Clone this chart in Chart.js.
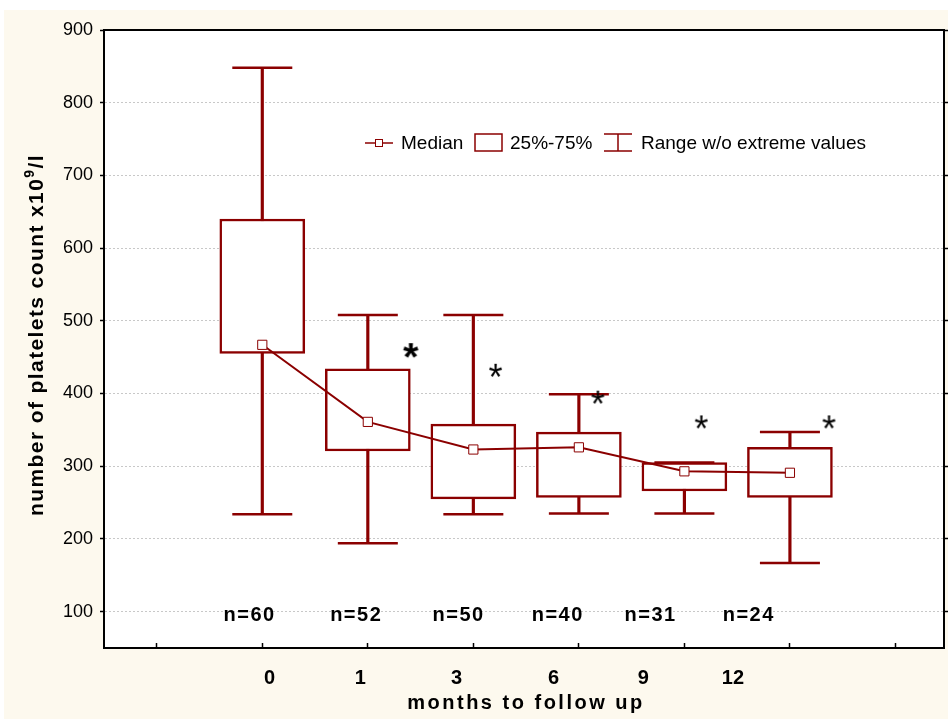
<!DOCTYPE html>
<html>
<head>
<meta charset="utf-8">
<script src="https://cdn.jsdelivr.net/npm/chart.js@4.4.1/dist/chart.umd.min.js"></script>
<style>
	html, body { margin: 0; padding: 0; background: #fff; }
</style>
</head>
<body>
<canvas id="platelets" width="948" height="719"></canvas>
<script>
// --- data ---
const months = ['0', '1', '3', '6', '9', '12'];
const nCounts = [60, 52, 50, 40, 31, 24];
const medians = [467, 361, 323, 326, 293, 291];
const q1 = [455, 321, 255, 257, 266, 257];
const q3 = [640, 434, 358, 347, 305, 326];
const lowWhisker = [234, 194, 234, 235, 235, 167];
const highWhisker = [848, 508, 508, 399, 305, 347];
const extremeX = [2.41, 3.21, 4.18, 5.16, 6.37];
const extremeY = [459, 432, 395, 361, 361];
const yTicks = [100, 200, 300, 400, 500, 600, 700, 800, 900];
const slotTicks = [0, 1, 2, 3, 4, 5, 6, 7];
// labels in the original sit a bit off the boxes
const monthLabelPos = [1.07, 1.93, 2.84, 3.76, 4.61, 5.46];
const nLabelPos = [0.88, 1.89, 2.86, 3.80, 4.68, 5.61];
const nLabelY = 95;

const DARK = '#8b0000';
const CREAM = '#fdf9ee';
const FONT = "'Liberation Sans', Arial, sans-serif";
const X_MIN = -0.5;
const X_MAX = 7.46;

const boxX = months.map((m, i) => i + 1);

function asteriskImage(height, bold) {
	const probe = document.createElement('canvas').getContext('2d');
	probe.font = (bold ? 'bold ' : '') + '100px ' + FONT;
	const m = probe.measureText('*');
	const h = m.actualBoundingBoxAscent + m.actualBoundingBoxDescent;
	const size = 100 * height / h;
	const c = document.createElement('canvas');
	c.width = Math.ceil(height * 1.4);
	c.height = Math.ceil(height * 1.4);
	const g = c.getContext('2d');
	g.font = (bold ? 'bold ' : '') + size + 'px ' + FONT;
	const mm = g.measureText('*');
	const w = mm.actualBoundingBoxLeft + mm.actualBoundingBoxRight;
	g.fillStyle = '#000';
	g.fillText('*',
		(c.width - w) / 2 + mm.actualBoundingBoxLeft,
		(c.height - height) / 2 + mm.actualBoundingBoxAscent);
	return c;
}

const starBold = asteriskImage(15, true);
const starThin = asteriskImage(13, false);

const framePlugin = {
	id: 'frame',
	beforeDraw(chart) {
		const { ctx, chartArea: ca, width, height } = chart;
		ctx.save();
		ctx.fillStyle = '#fff';
		ctx.fillRect(0, 0, width, height);
		ctx.fillStyle = CREAM;
		ctx.fillRect(4, 10, width - 4, height - 10);
		ctx.fillStyle = '#fff';
		ctx.fillRect(ca.left, ca.top, ca.right - ca.left, ca.bottom - ca.top);
		ctx.restore();
	},
	afterDraw(chart) {
		const { ctx, chartArea: ca } = chart;
		const xs = chart.scales.x;
		const ys = chart.scales.y;
		ctx.save();
		ctx.fillStyle = '#000';
		ctx.textBaseline = 'middle';

		// n= labels
		ctx.font = 'bold 20px ' + FONT;
		ctx.letterSpacing = '1.5px';
		ctx.textAlign = 'center';
		nCounts.forEach((n, i) => {
			ctx.fillText('n=' + n, xs.getPixelForValue(nLabelPos[i]), ys.getPixelForValue(nLabelY));
		});

		// x title
		ctx.font = 'bold 20px ' + FONT;
		ctx.letterSpacing = '2.5px';
		ctx.fillText('months to follow up', (ca.left + ca.right) / 2 + 2, 703);

		// y title with superscript
		ctx.save();
		ctx.translate(37, (ca.top + ca.bottom) / 2 - 4);
		ctx.rotate(-Math.PI / 2);
		ctx.textAlign = 'left';
		ctx.letterSpacing = '1.4px';
		const part1 = 'number of platelets count x10';
		const sup = '9';
		const part2 = '/l';
		ctx.font = 'bold 21px ' + FONT;
		const w1 = ctx.measureText(part1).width;
		const w3 = ctx.measureText(part2).width;
		ctx.font = 'bold 14px ' + FONT;
		const w2 = ctx.measureText(sup).width;
		const x0 = -(w1 + w2 + w3) / 2;
		ctx.font = 'bold 21px ' + FONT;
		ctx.fillText(part1, x0, 0);
		ctx.font = 'bold 14px ' + FONT;
		ctx.fillText(sup, x0 + w1, -7);
		ctx.font = 'bold 21px ' + FONT;
		ctx.fillText(part2, x0 + w1 + w2, 0);
		ctx.restore();

		// legend
		ctx.letterSpacing = '0px';
		ctx.textAlign = 'left';
		ctx.font = '19px ' + FONT;
		const lx = ca.left + 261;
		const ly = ca.top + 113;
		ctx.strokeStyle = DARK;
		ctx.lineWidth = 1.5;
		ctx.beginPath();
		ctx.moveTo(lx, ly);
		ctx.lineTo(lx + 28, ly);
		ctx.stroke();
		ctx.fillStyle = '#fff';
		ctx.fillRect(lx + 10.5, ly - 3.5, 7, 7);
		ctx.lineWidth = 1;
		ctx.strokeRect(lx + 10.5, ly - 3.5, 7, 7);
		ctx.fillStyle = '#000';
		ctx.fillText('Median', lx + 36, ly + 1);

		ctx.lineWidth = 1.5;
		ctx.strokeRect(lx + 110, ly - 9, 27, 17);
		ctx.fillText('25%-75%', lx + 145, ly + 1);

		ctx.beginPath();
		ctx.moveTo(lx + 239, ly - 9);
		ctx.lineTo(lx + 267, ly - 9);
		ctx.moveTo(lx + 253, ly - 9);
		ctx.lineTo(lx + 253, ly + 8);
		ctx.moveTo(lx + 239, ly + 8);
		ctx.lineTo(lx + 267, ly + 8);
		ctx.stroke();
		ctx.fillText('Range w/o extreme values', lx + 276, ly + 1);

		ctx.restore();
	},
};

new Chart(document.getElementById('platelets'), {
	type: 'line',
	data: {
		datasets: [
			{
				type: 'line',
				label: 'Median',
				data: boxX.map((x, i) => ({ x, y: medians[i] })),
				borderColor: DARK,
				borderWidth: 2,
				tension: 0,
				pointStyle: 'rect',
				pointRadius: 6.5,
				pointBackgroundColor: '#fff',
				pointBorderColor: DARK,
				pointBorderWidth: 1,
				order: 1,
			},
			{
				type: 'bar',
				label: '25%-75%',
				data: boxX.map((x, i) => ({ x, y: [q1[i], q3[i]] })),
				backgroundColor: '#fff',
				borderColor: DARK,
				borderWidth: 2.5,
				borderSkipped: false,
				barThickness: 85,
				grouped: false,
				order: 3,
			},
			{
				type: 'bar',
				label: 'Range w/o extreme values',
				data: boxX.map((x, i) => ({ x, y: [lowWhisker[i], highWhisker[i]] })),
				backgroundColor: DARK,
				borderWidth: 0,
				barThickness: 2.5,
				grouped: false,
				order: 5,
			},
			{
				type: 'scatter',
				label: 'caps',
				data: boxX.map((x, i) => ({ x, y: highWhisker[i] }))
					.concat(boxX.map((x, i) => ({ x, y: lowWhisker[i] }))),
				showLine: false,
				pointStyle: 'line',
				pointRadius: 30,
				pointBorderColor: DARK,
				pointBorderWidth: 2.5,
				order: 4,
			},
			{
				type: 'scatter',
				label: 'extremes',
				data: extremeX.map((x, i) => ({ x, y: extremeY[i] })),
				showLine: false,
				pointStyle: (ctx) => (ctx.dataIndex === 0 ? starBold : starThin),
				order: 0,
			},
		],
	},
	options: {
		responsive: false,
		animation: false,
		events: [],
		layout: { autoPadding: false, padding: { top: 30, left: 0, right: 0, bottom: 0 } },
		plugins: {
			legend: { display: false },
			tooltip: { enabled: false },
		},
		scales: {
			x: {
				type: 'linear',
				position: 'bottom',
				min: X_MIN,
				max: X_MAX,
				offset: false,
				weight: 0,
				afterBuildTicks: (s) => { s.ticks = slotTicks.map((v) => ({ value: v })); },
				afterFit: (s) => { s.height = 0; },
				ticks: { display: false },
				grid: {
					offset: false,
					drawOnChartArea: false,
					drawTicks: true,
					tickLength: -5,
					tickColor: '#000',
					tickWidth: 1.5,
				},
				border: { color: '#000', width: 2 },
			},
			xLabels: {
				type: 'linear',
				position: 'bottom',
				min: X_MIN,
				max: X_MAX,
				offset: false,
				weight: 1,
				afterBuildTicks: (s) => { s.ticks = monthLabelPos.map((v) => ({ value: v })); },
				afterFit: (s) => { s.height = 71; },
				grid: { display: false },
				border: { display: false },
				ticks: {
					autoSkip: false,
					maxRotation: 0,
					padding: 10,
					color: '#000',
					font: { family: FONT, size: 20, weight: 'bold' },
					callback: (v, i) => months[i],
				},
			},
			xTop: {
				type: 'linear',
				position: 'top',
				afterFit: (s) => { s.height = 0; },
				ticks: { display: false },
				grid: { drawOnChartArea: false, drawTicks: false },
				border: { color: '#000', width: 2 },
			},
			y: {
				type: 'linear',
				position: 'left',
				min: 50,
				max: 900,
				afterBuildTicks: (s) => { s.ticks = yTicks.map((v) => ({ value: v })); },
				afterFit: (s) => { s.width = 104; },
				ticks: {
					padding: 7,
					color: '#000',
					font: { family: FONT, size: 18 },
				},
				grid: {
					color: '#c8c8c8',
					lineWidth: 1,
					tickLength: 4,
					tickColor: '#000',
					tickWidth: 1.5,
				},
				border: { color: '#000', width: 2, dash: [2, 2] },
			},
			y2: {
				type: 'linear',
				position: 'right',
				min: 50,
				max: 900,
				afterBuildTicks: (s) => { s.ticks = yTicks.map((v) => ({ value: v })); },
				afterFit: (s) => { s.width = 4; },
				ticks: { display: false },
				grid: {
					drawOnChartArea: false,
					tickLength: 4,
					tickColor: '#000',
					tickWidth: 1.5,
				},
				border: { color: '#000', width: 2 },
			},
		},
	},
	plugins: [framePlugin],
});
</script>
</body>
</html>
